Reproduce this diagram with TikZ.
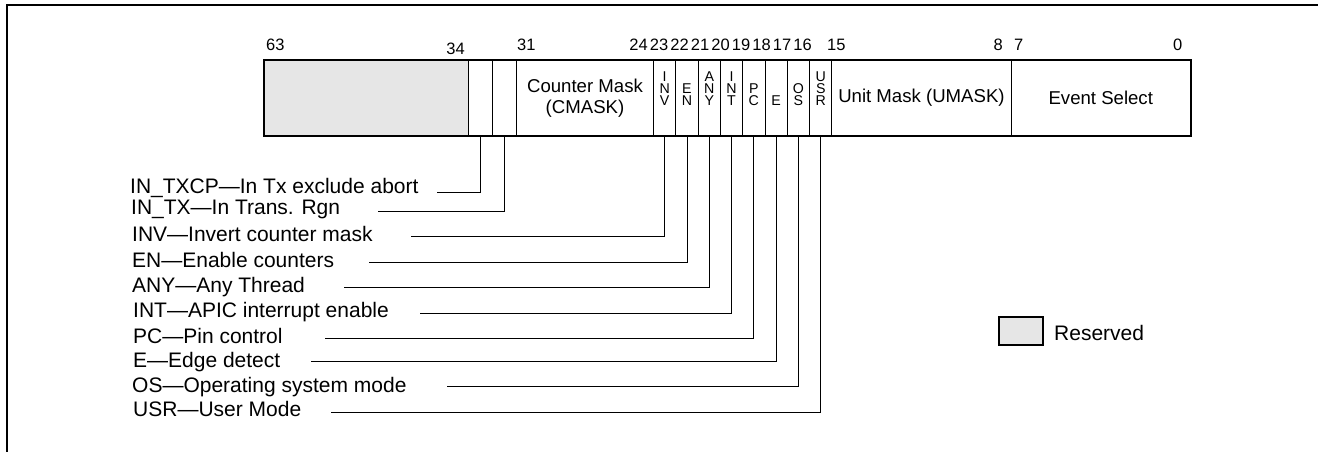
\documentclass[tikz,border=0pt]{standalone}
\usepackage{fontspec}
\setmainfont{Liberation Sans}
\definecolor{resv}{HTML}{E6E6E6}
\begin{document}
\begin{tikzpicture}[x=1pt,y=-1pt,
  fld/.style={draw, line width=1pt, inner sep=0pt, minimum height=74pt, anchor=west, align=center,
              font=\fontsize{18.6}{20.5}\selectfont},
  stk/.style={inner sep=0pt, align=center, text depth=0pt, anchor=south,
              font=\fontsize{14.2}{11.8}\selectfont},
  num/.style={inner sep=0pt, font=\fontsize{16.5}{20}\selectfont},
  lbl/.style={inner sep=0pt, anchor=base west, font=\fontsize{21}{25}\selectfont},
  conn/.style={line width=0.9pt}]
\useasboundingbox (0,0) rectangle (1318,452);
% frame
\draw[line width=2.2pt] (7,452) -- (7,5) -- (1318,5);
% fields
\node[fld, fill=resv, minimum width=204pt] (res) at (264,98) {};
\node[fld, minimum width=24pt] (txcp) at (468,98) {};
\node[fld, minimum width=24pt] (tx) at (492,98) {};
\node[fld, minimum width=137pt] (cmask) at (516,98) {Counter Mask\\(CMASK)};
\node[fld, minimum width=22.3pt] (inv) at (653,98) {};
\node[fld, minimum width=22.3pt] (en) at (675.3,98) {};
\node[fld, minimum width=22.3pt] (any) at (697.6,98) {};
\node[fld, minimum width=22.3pt] (int) at (719.9,98) {};
\node[fld, minimum width=22.3pt] (pc) at (742.2,98) {};
\node[fld, minimum width=22.3pt] (e) at (764.5,98) {};
\node[fld, minimum width=22.3pt] (os) at (786.8,98) {};
\node[fld, minimum width=22.3pt] (usr) at (809.1,98) {};
\node[fld, minimum width=179.1pt] (umask) at (831.4,98) {Unit Mask (UMASK)};
\node[fld, minimum width=179.5pt] (evt) at (1010.5,98) {Event Select};
\draw[line width=2pt] (res.north west) rectangle (evt.south east);
% stacked letters
\coordinate (sb) at (0,105.5);
\node[stk] (tinv) at (inv.center |- sb) {I\\N\\V};
\node[stk] (ten) at (en.center |- sb) {E\\N};
\node[stk] (tany) at (any.center |- sb) {A\\N\\Y};
\node[stk] (tint) at (int.center |- sb) {I\\N\\T};
\node[stk] (tpc) at (pc.center |- sb) {P\\C};
\node[stk] (te) at (e.center |- sb) {E};
\node[stk] (tos) at (os.center |- sb) {O\\S};
\node[stk] (tusr) at (usr.center |- sb) {U\\S\\R};
% bit numbers
\node[num, anchor=base west] (n63) at (266,50.5) {63};
\node[num, anchor=base east] (n34) at (465,55) {34};
\node[num, anchor=base west] (n31) at (517,50.5) {31};
\node[num, anchor=base east] (n24) at (648,50.5) {24};
\node[num, anchor=base] (n23) at (659,50.5) {23};
\node[num, anchor=base] (n22) at (679.5,50.5) {22};
\node[num, anchor=base] (n21) at (700,50.5) {21};
\node[num, anchor=base] (n20) at (720.5,50.5) {20};
\node[num, anchor=base] (n19) at (741,50.5) {19};
\node[num, anchor=base] (n18) at (761.5,50.5) {18};
\node[num, anchor=base] (n17) at (782,50.5) {17};
\node[num, anchor=base] (n16) at (802.5,50.5) {16};
\node[num, anchor=base west] (n15) at (827,50.5) {15};
\node[num, anchor=base east] (n8) at (1003,50.5) {8};
\node[num, anchor=base west] (n7) at (1014,50.5) {7};
\node[num, anchor=base east] (n0) at (1182.6,50.5) {0};
% labels
\node[lbl] (l1) at (130,193.5) {IN\_TXCP—In Tx exclude abort};
\node[lbl] (l2) at (131,214.5) {IN\_TX—In Trans. Rgn};
\node[lbl] (l3) at (132,241.5) {INV—Invert counter mask};
\node[lbl] (l4) at (132,267.5) {EN—Enable counters};
\node[lbl] (l5) at (132,292.5) {ANY—Any Thread};
\node[lbl] (l6) at (133,317.5) {INT—APIC interrupt enable};
\node[lbl] (l7) at (133,343) {PC—Pin control};
\node[lbl] (l8) at (133,367) {E—Edge detect};
\node[lbl] (l9) at (132,392) {OS—Operating system mode};
\node[lbl] (l10) at (133,416.5) {USR—User Mode};
% connector ends
\coordinate (c1) at (437,192);
\coordinate (c2) at (378,211);
\coordinate (c3) at (411,236);
\coordinate (c4) at (369,262);
\coordinate (c5) at (344,287);
\coordinate (c6) at (420,313);
\coordinate (c7) at (325,338);
\coordinate (c8) at (311,361);
\coordinate (c9) at (447,386);
\coordinate (c10) at (331,412);
\draw[conn] (txcp.south) |- (c1);
\draw[conn] (tx.south) |- (c2);
\draw[conn] (inv.south) |- (c3);
\draw[conn] (en.south) |- (c4);
\draw[conn] (any.south) |- (c5);
\draw[conn] (int.south) |- (c6);
\draw[conn] (pc.south) |- (c7);
\draw[conn] (e.south) |- (c8);
\draw[conn] (os.south) |- (c9);
\draw[conn] (usr.south) |- (c10);
% legend
\node[draw, fill=resv, line width=1.2pt, minimum width=44pt, minimum height=28pt, inner sep=0pt] (leg) at (1021,331) {};
\node[lbl] (legt) at (1054,340) {Reserved};
\end{tikzpicture}
\end{document}
